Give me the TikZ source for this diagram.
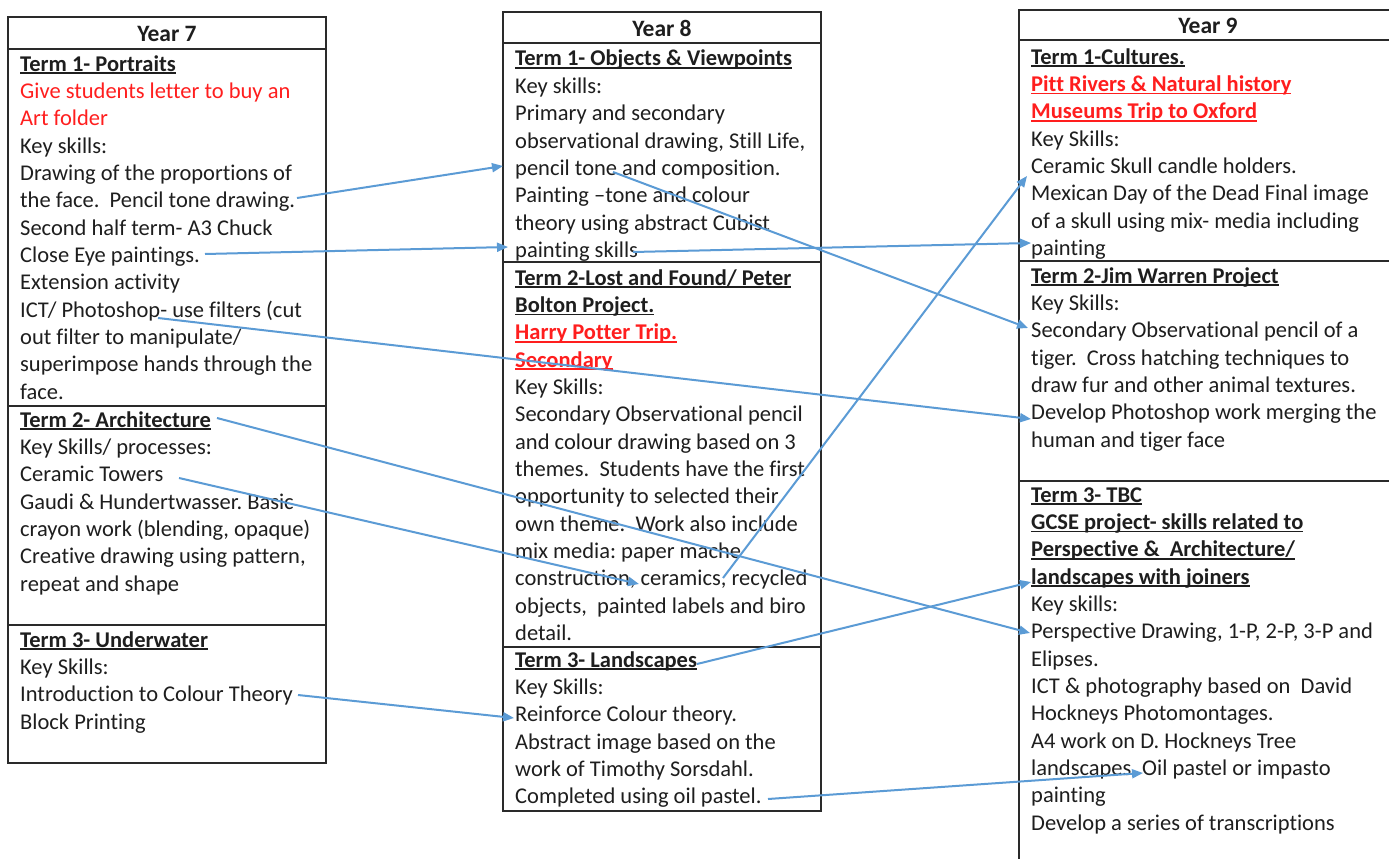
\documentclass[tikz,border=0pt]{standalone}
\usepackage{fontspec}
\setmainfont{Carlito}[Ligatures=NoCommon]
\usetikzlibrary{arrows.meta}
\definecolor{txt}{HTML}{1E1E1E}
\definecolor{redt}{HTML}{FF1E1E}
\definecolor{arr}{RGB}{91,155,213}
\definecolor{frame}{HTML}{2A2A2A}
\newcommand\ulx[1]{\leavevmode\setbox0=\hbox{#1}\rlap{\rule[-2.8pt]{\wd0}{1.4pt}}\box0}
\newcommand\hd[1]{\ulx{\textbf{#1}}}
\newcommand\rd[1]{\textcolor{redt}{#1}}
\newcommand\cellx[1]{\vtop{\hsize=400pt\parindent=0pt\frenchspacing\baselineskip=27.35pt\lineskiplimit=-100pt\lineskip=0pt\raggedright\leavevmode #1\par}}
\tikzset{
  cell/.style={anchor=base west, inner sep=0pt, text=txt, font=\fontsize{22.5pt}{27.35pt}\selectfont},
  head/.style={anchor=base, inner sep=0pt, text=txt, font=\fontsize{23.5pt}{27pt}\selectfont\bfseries},
  conn/.style={draw=arr, line width=2pt, -{Triangle[length=11pt,width=9pt]}},
  box/.style={draw=frame, line width=1.4pt}
}
\begin{document}
\begin{tikzpicture}[x=1pt,y=-1pt]
\useasboundingbox[fill=white] (0,0) rectangle (1389,859);
% frames
\draw[box] (8,17) rectangle (326,763);
\draw[box] (8,49) -- (326,49) (8,406) -- (326,406) (8,625) -- (326,625);
\draw[box] (503,12) rectangle (821,811);
\draw[box] (503,43) -- (821,43) (503,262) -- (821,262) (503,647) -- (821,647);
\draw[box] (1389,10) -- (1019,10) -- (1019,859);
\draw[box] (1019,40) -- (1389,40) (1019,261) -- (1389,261) (1019,481) -- (1389,481);
% headers
\node[head] (y7) at (167,41.5) {Year 7};
\node[head] (y8) at (662,36.5) {Year 8};
\node[head] (y9) at (1208,33.3) {Year 9};
% Year 7
\node[cell] (y7t1) at (20,71) {\cellx{\hd{Term 1- Portraits}\\
\rd{Give students letter to buy an}\\
\rd{Art folder}\\
Key skills:\\
Drawing of the proportions of\\
the face.\ \ Pencil tone drawing.\\
Second half term- A3 Chuck\\
Close Eye paintings.\\
Extension activity\\
ICT/ Photoshop- use filters (cut\\
out filter to manipulate/\\
superimpose hands through the\\
face.}};
\node[cell] (y7t2) at (20,427) {\cellx{\hd{Term 2- Architecture}\\
Key Skills/ processes:\\
Ceramic Towers\\
Gaudi \& Hundertwasser. Basic\\
crayon work (blending, opaque)\\
Creative drawing using pattern,\\
repeat and shape}};
\node[cell] (y7t3) at (20,647) {\cellx{\hd{Term 3- Underwater}\\
Key Skills:\\
Introduction to Colour Theory\\
Block Printing}};
% Year 8
\node[cell] (y8t1) at (515,66) {\cellx{\hd{Term 1- Objects \& Viewpoints}\\
Key skills:\\
Primary and secondary\\
observational drawing, Still Life,\\
pencil tone and composition.\\
Painting –tone and colour\\
theory using abstract Cubist\\
painting skills}};
\node[cell] (y8t2) at (515,285) {\cellx{\hd{Term 2-Lost and Found/ Peter}\\
\hd{Bolton Project.}\\
\rd{\hd{Harry Potter Trip.}}\\
\rd{\hd{Secondary}}\\
Key Skills:\\
Secondary Observational pencil\\
and colour drawing based on 3\\
themes.\ \ Students have the first\\
opportunity to selected their\\
own theme.\ \ Work also include\\
mix media: paper mache\\
construction, ceramics, recycled\\
objects,\ \ painted labels and biro\\
detail.}};
\node[cell] (y8t3) at (515,667) {\cellx{\hd{Term 3- Landscapes}\\
Key Skills:\\
Reinforce Colour theory.\\
Abstract image based on the\\
work of Timothy Sorsdahl.\\
Completed using oil pastel.}};
% Year 9
\node[cell] (y9t1) at (1031,64) {\cellx{\hd{Term 1-Cultures.}\\
\rd{\hd{Pitt Rivers \& Natural history}}\\
\rd{\hd{Museums Trip to Oxford}}\\
Key Skills:\\
Ceramic Skull candle holders.\\
Mexican Day of the Dead Final image\\
of a skull using mix- media including\\
painting}};
\node[cell] (y9t2) at (1031,283) {\cellx{\hd{Term 2-Jim Warren Project}\\
Key Skills:\\
Secondary Observational pencil of a\\
tiger.\ \ Cross hatching techniques to\\
draw fur and other animal textures.\\
Develop Photoshop work merging the\\
human and tiger face}};
\node[cell] (y9t3) at (1031,502) {\cellx{\hd{Term 3- TBC}\\
\hd{GCSE project- skills related to}\\
\hd{Perspective \&\ \ Architecture/}\\
\hd{landscapes with joiners}\\
Key skills:\\
Perspective Drawing, 1-P, 2-P, 3-P and\\
Elipses.\\
ICT \& photography based on\ \ David\\
Hockneys Photomontages.\\
A4 work on D. Hockneys Tree\\
landscapes. Oil pastel or impasto\\
painting\\
Develop a series of transcriptions}};
% connector end points
\coordinate (a1s) at (297,198);  \coordinate (a1e) at (503,166);
\coordinate (a2s) at (205,254);  \coordinate (a2e) at (508,247);
\coordinate (a3s) at (158,318);  \coordinate (a3e) at (1031,419);
\coordinate (a4s) at (613,172);  \coordinate (a4e) at (1028,328);
\coordinate (a5s) at (633,252);  \coordinate (a5e) at (1031,243);
\coordinate (a6s) at (723,578);  \coordinate (a6e) at (1027,176);
\coordinate (a7s) at (217,418);  \coordinate (a7e) at (1030,633);
\coordinate (a8s) at (179,478);  \coordinate (a8e) at (639,584);
\coordinate (a9s) at (697,664);  \coordinate (a9e) at (1031,582);
\coordinate (a10s) at (298,695); \coordinate (a10e) at (514,718);
\coordinate (a11s) at (768,799); \coordinate (a11e) at (1143,773);
\foreach \i in {1,...,11} \draw[conn] (a\i s) -- (a\i e);
\end{tikzpicture}
\end{document}
